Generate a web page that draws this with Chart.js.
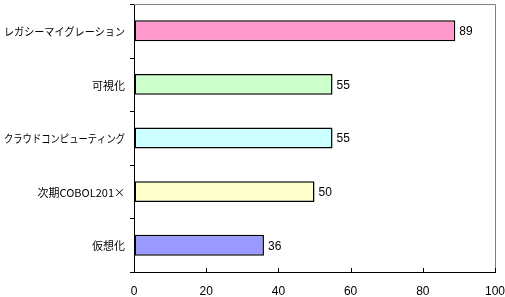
<!DOCTYPE html>
<html>
<head>
<meta charset="utf-8">
<script src="https://cdn.jsdelivr.net/npm/chart.js@4/dist/chart.umd.min.js"></script>
<style>
  html, body { margin: 0; padding: 0; background: #fff; }
  #wrap { width: 505px; height: 297px; }
</style>
</head>
<body>
<div id="wrap"><canvas id="grafico" width="505" height="297"></canvas></div>
<script>
// Itens (de cima para baixo) e valores
const itens   = ['レガシーマイグレーション', '可視化', 'クラウドコンピューティング', '次期COBOL201×', '仮想化'];
const valores = [89, 55, 55, 50, 36];
const cores   = ['#FF99CC', '#CCFFCC', '#CCFFFF', '#FFFFCC', '#9999FF'];
const eixoX   = [0, 20, 40, 60, 80, 100];

const fonteJP  = '"Noto Sans CJK JP", "Noto Sans", sans-serif';
const fonteNum = '"Liberation Sans", Arial, sans-serif';

// borda cinza, ticks dos eixos, rótulos das categorias e dos valores
const extras = {
  id: 'extras',
  afterDraw(chart) {
    const { ctx, chartArea: a } = chart;
    const x = chart.scales.x, y = chart.scales.y;
    ctx.save();
    ctx.strokeStyle = '#808080';
    ctx.lineWidth = 1;
    ctx.beginPath();
    ctx.moveTo(a.left, a.top + 0.5);
    ctx.lineTo(a.right + 0.5, a.top + 0.5);
    ctx.lineTo(a.right + 0.5, a.bottom);
    ctx.stroke();

    ctx.strokeStyle = '#000';
    ctx.beginPath();
    // eixo x: ticks para dentro
    eixoX.slice(1).forEach(v => {
      const px = Math.round(x.getPixelForValue(v)) + 0.5;
      ctx.moveTo(px, a.bottom);
      ctx.lineTo(px, a.bottom - 4);
    });
    // eixo y: ticks para fora, entre as categorias
    const passo = y.getPixelForValue(1) - y.getPixelForValue(0);
    for (let i = 0; i <= itens.length; i++) {
      const py = Math.round(y.getPixelForValue(i) - passo / 2) + 0.5;
      ctx.moveTo(a.left - 4, py);
      ctx.lineTo(a.left, py);
    }
    ctx.stroke();

    ctx.fillStyle = '#000';
    ctx.textBaseline = 'middle';

    // categorias (comprimidas se forem largas demais)
    ctx.font = '11px ' + fonteJP;
    ctx.textAlign = 'right';
    itens.forEach((t, i) => {
      ctx.fillText(t, a.left - 9, y.getPixelForValue(i) + 1, 121);
    });

    // valores na ponta das barras
    ctx.font = '12px ' + fonteNum;
    ctx.textAlign = 'left';
    chart.getDatasetMeta(0).data.forEach((bar, i) => {
      ctx.fillText(String(valores[i]), bar.x + 4, bar.y + 1);
    });
    ctx.restore();
  }
};

new Chart(document.getElementById('grafico'), {
  type: 'bar',
  data: {
    labels: itens,
    datasets: [{
      data: valores,
      backgroundColor: cores,
      borderColor: '#000',
      borderWidth: 1.5,
      borderSkipped: false,
      categoryPercentage: 1,
      barPercentage: 0.39
    }]
  },
  options: {
    indexAxis: 'y',
    responsive: false,
    animation: false,
    layout: { padding: { top: 4, right: 10, left: 0, bottom: 0 } },
    plugins: { legend: { display: false }, tooltip: { enabled: false } },
    scales: {
      x: {
        min: 0, max: 100,
        afterBuildTicks: s => { s.ticks = eixoX.map(v => ({ value: v })); },
        afterFit: s => { s.height = 25; s.paddingLeft = 0; s.paddingRight = 0; },
        grid: { display: true, drawOnChartArea: false, drawTicks: false },
        border: { display: true, color: '#000', width: 1 },
        ticks: { color: '#000', padding: 12, font: { size: 12, family: fonteNum } }
      },
      y: {
        afterFit: s => { s.width = 134; s.paddingTop = 0; s.paddingBottom = 0; },
        grid: { display: false },
        border: { display: true, color: '#000', width: 1 },
        ticks: { display: false }
      }
    }
  },
  plugins: [extras]
});
</script>
</body>
</html>
